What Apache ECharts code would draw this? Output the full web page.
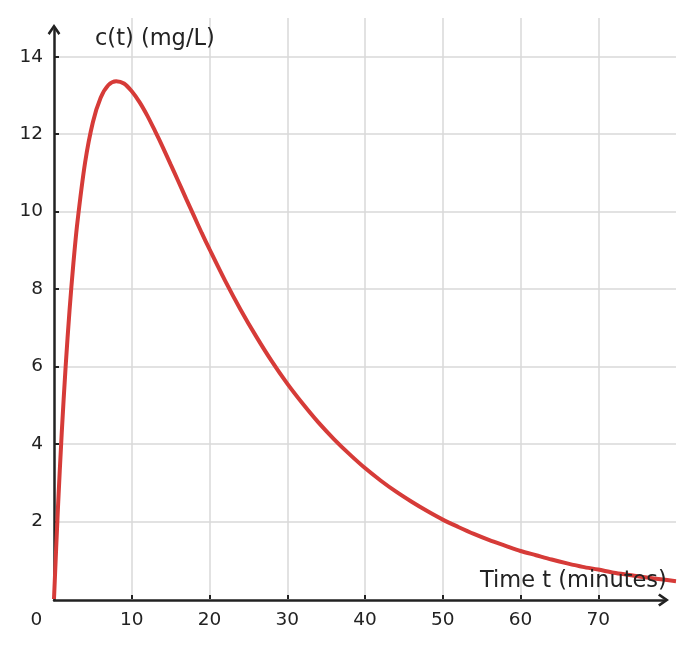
<!DOCTYPE html>
<html>
<head>
<meta charset="utf-8">
<script src="https://cdn.jsdelivr.net/npm/echarts@6/dist/echarts.min.js"></script>
<style>
  html, body { margin: 0; padding: 0; background: #fff; }
  #chart { width: 694px; height: 649px; }
</style>
</head>
<body>
<div id="chart"></div>
<script>
// concentration curve
const timeMin = [0, 0.5, 1, 1.5, 2, 2.5, 3, 4, 5, 6, 7, 8, 9, 10, 11, 12, 13, 14, 15, 16, 17, 18, 19, 20,
  22, 24, 26, 28, 30, 32, 34, 36, 38, 40, 42, 44, 46, 48, 50, 52, 54, 56, 58, 60, 62, 64, 66, 68, 70, 72, 74, 76, 78, 80]
const concentration = [0, 2.32, 4.31, 6.01, 7.46, 8.68, 9.71, 11.27, 12.31, 12.94, 13.27, 13.37, 13.31, 13.11, 12.83, 12.48, 12.08, 11.66, 11.22, 10.78, 10.33, 9.89, 9.45, 9.03,
  8.22, 7.47, 6.78, 6.14, 5.56, 5.04, 4.56, 4.13, 3.74, 3.38, 3.06, 2.77, 2.51, 2.27, 2.05, 1.86, 1.68, 1.52, 1.38, 1.24, 1.13, 1.02, 0.92, 0.83, 0.76, 0.68, 0.62, 0.56, 0.51, 0.46]

const xTicks = [10, 20, 30, 40, 50, 60, 70]
const xLabels = [0, 10, 20, 30, 40, 50, 60, 70]
const yTicks = [2, 4, 6, 8, 10, 12, 14]

const ink = "#222222"
const font = "DejaVu Sans"
// open chevron used as the axis arrow head
const chevron = "path://M0,9.5 L6.5,0 L13,9.5 L11,11.2 L6.5,4.6 L2,11.2 Z"

const chart = echarts.init(document.getElementById("chart"))

const arrowAxis = (gridIndex) => ({
  type: "value",
  gridIndex,
  min: 0,
  max: 1,
  axisLine: {
    show: true,
    symbol: ["none", chevron],
    symbolSize: [14, 11],
    lineStyle: { color: ink, width: 2.5 },
  },
  axisTick: { show: false },
  axisLabel: { show: false },
  splitLine: { show: false },
})

const option = {
  animation: false,
  backgroundColor: "#fff",
  grid: [
    { left: 54, right: 18, top: 18, bottom: 50 },
    { left: 54, right: 30.5, top: 29.5, bottom: 49 },
  ],
  xAxis: [
    {
      type: "value",
      gridIndex: 0,
      min: 0,
      max: 80,
      interval: 10,
      axisLine: { show: false },
      axisTick: {
        show: true,
        inside: true,
        length: 4,
        customValues: xTicks,
        lineStyle: { color: ink, width: 2 },
      },
      axisLabel: {
        customValues: xLabels,
        margin: 12,
        color: ink,
        fontFamily: font,
        fontSize: 18.5,
        formatter: (v) => (v === 0 ? "{o|0}" : String(v)),
        rich: { o: { padding: [0, 35, 0, 0], fontFamily: font, fontSize: 18.5, color: ink } },
      },
      splitLine: {
        show: true,
        lineStyle: { color: "#d9d9d9", width: 1.5 },
      },
    },
    arrowAxis(1),
  ],
  yAxis: [
    {
      type: "value",
      gridIndex: 0,
      min: 0,
      max: 15,
      interval: 1,
      axisLine: { show: false },
      axisTick: {
        show: true,
        inside: true,
        length: 5,
        customValues: yTicks,
        lineStyle: { color: ink, width: 2 },
      },
      axisLabel: {
        customValues: yTicks,
        margin: 11,
        color: ink,
        fontFamily: font,
        fontSize: 18.5,
      },
      splitLine: {
        show: true,
        lineStyle: { color: "#d9d9d9", width: 1.5 },
      },
    },
    arrowAxis(1),
  ],
  graphic: [
    {
      type: "text",
      left: 95,
      top: 28,
      z: 100,
      style: { text: "c(t) (mg/L)", fill: ink, font: "22.5px " + font },
    },
    {
      type: "text",
      left: 480,
      top: 570,
      z: 100,
      style: { text: "Time t (minutes)", fill: ink, font: "22.5px " + font },
    },
  ],
  series: [
    {
      type: "line",
      xAxisIndex: 0,
      yAxisIndex: 0,
      data: timeMin.map((t, i) => [t, concentration[i]]),
      smooth: 0.3,
      showSymbol: false,
      silent: true,
      z: 5,
      lineStyle: { color: "#d63b38", width: 4 },
    },
  ],
}

chart.setOption(option)
</script>
</body>
</html>
